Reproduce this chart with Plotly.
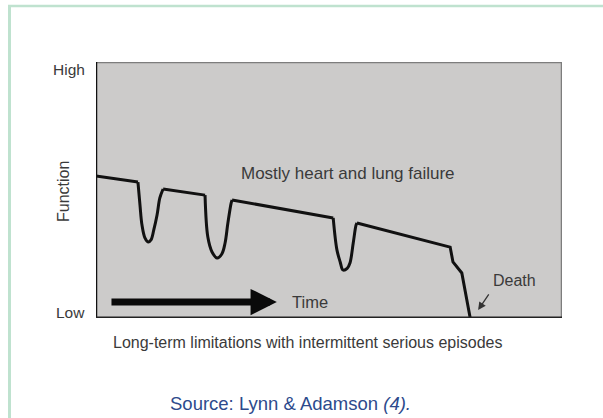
import plotly.graph_objects as go

# ---- data (time 0-100, function 0-100) ----
line_t = [0, 9.0, 14.4, 23.4, 29.2, 50.9, 56.0, 76.0, 76.6, 78.5, 80.3]
line_f = [55.5, 53.1, 50.4, 48.0, 46.1, 39.1, 37.1, 27.7, 21.9, 17.6, 0]

dip1_t = [9.0, 9.44, 9.87, 10.5, 11.2, 11.8, 12.4, 13.1, 13.7, 14.4]
dip1_f = [53.1, 44.1, 36.3, 31.3, 29.7, 30.5, 34.4, 40.2, 46.9, 50.4]
dip2_t = [23.4, 24.0, 24.9, 26.0, 27.0, 27.7, 28.3, 29.0, 29.2]
dip2_f = [48.0, 31.6, 25.8, 23.4, 25.0, 29.3, 37.1, 44.9, 46.1]
dip3_t = [50.9, 51.7, 52.4, 53.0, 53.9, 54.5, 55.2, 55.8, 56.0]
dip3_f = [39.1, 26.6, 21.9, 18.75, 19.4, 21.5, 29.3, 36.3, 37.1]

tick_vals = [2, 96.9]
tick_text = ["Low", "High"]

W, H = 603, 418
L, R, T, B = 96, 562, 62, 318

font_fam = "Liberation Sans, Arial, sans-serif"
txt_col = "#3a3a3a"

fig = go.Figure()

def seg(t, f, shape="linear"):
    fig.add_trace(go.Scatter(x=t, y=f, mode="lines",
                             line=dict(color="#111111", width=3, shape=shape),
                             hoverinfo="skip", showlegend=False))

# straight parts (between dips)
seg(line_t[0:2], line_f[0:2])
seg(line_t[2:4], line_f[2:4])
seg(line_t[4:6], line_f[4:6])
seg(line_t[6:], line_f[6:])
seg(dip1_t, dip1_f, "spline")
seg(dip2_t, dip2_f, "spline")
seg(dip3_t, dip3_f, "spline")

fig.update_layout(
    width=W, height=H,
    margin=dict(l=0, r=0, t=0, b=0),
    paper_bgcolor="white",
    plot_bgcolor="#cccbca",
    showlegend=False,
    font=dict(family=font_fam, color=txt_col),
    xaxis=dict(domain=[L / W, R / W], range=[0, 100], showgrid=False,
               zeroline=False, showticklabels=False, ticks="", fixedrange=True),
    yaxis=dict(domain=[(H - B) / H, (H - T) / H], range=[0, 100], showgrid=False,
               zeroline=False, showticklabels=False, ticks="", fixedrange=True),
)

# plot frame: gray top/right, black left/bottom
fig.add_shape(type="line", xref="x", yref="y", x0=0, x1=100, y0=100, y1=100,
              line=dict(color="#7d7d7d", width=2.5))
fig.add_shape(type="line", xref="x", yref="y", x0=100, x1=100, y0=0, y1=100,
              line=dict(color="#7d7d7d", width=2.5))
fig.add_shape(type="line", xref="x", yref="y", x0=0, x1=0, y0=0, y1=100,
              line=dict(color="#111111", width=2.5))
fig.add_shape(type="line", xref="x", yref="y", x0=0, x1=100, y0=0, y1=0,
              line=dict(color="#222222", width=3))

# green outer border (top and left)
fig.add_shape(type="line", xref="paper", yref="paper", x0=8 / W, x1=1, y0=1 - 6 / H, y1=1 - 6 / H,
              line=dict(color="#bfe2cf", width=2.5))
fig.add_shape(type="line", xref="paper", yref="paper", x0=9.5 / W, x1=9.5 / W, y0=0, y1=1 - 6 / H,
              line=dict(color="#bfe2cf", width=3))

def label(xp, yp, text, size, color=txt_col, angle=0):
    fig.add_annotation(x=xp / W, y=1 - yp / H, xref="paper", yref="paper", text=text,
                       textangle=angle, showarrow=False, xanchor="center", yanchor="middle",
                       font=dict(size=size, color=color))

# y tick labels
for v, t in zip(tick_vals, tick_text):
    fig.add_annotation(x=0, y=v, xref="x", yref="y", text=t, showarrow=False,
                       xanchor="right", yanchor="middle", xshift=-9,
                       font=dict(size=15.5, color=txt_col))

label(64, 192, "Function", 16, angle=-90)
label(348, 173, "Mostly heart and lung failure", 17)

# Time arrow
fig.add_annotation(x=38.8, y=6.25, ax=3.0, ay=6.25, xref="x", yref="y", axref="x", ayref="y",
                   text="", showarrow=True, arrowhead=2, arrowsize=0.75, arrowwidth=7,
                   arrowcolor="#0a0a0a")
label(310, 302, "Time", 16.5)

# Death label and arrow
label(514, 280, "Death", 16)
fig.add_annotation(x=82.0, y=3.1, ax=84.5, ay=9.8, xref="x", yref="y", axref="x", ayref="y",
                   text="", showarrow=True, arrowhead=2, arrowsize=1.2, arrowwidth=1.3,
                   arrowcolor="#333333")

# caption
label(308, 342, "Long-term limitations with intermittent serious episodes", 16)
label(290, 403, "Source: Lynn &amp; Adamson <i>(4).</i>", 18.5, color="#2d4a8c")

fig.write_html("out.html", config={"displayModeBar": False},
               post_script="document.body.style.margin='0';")
